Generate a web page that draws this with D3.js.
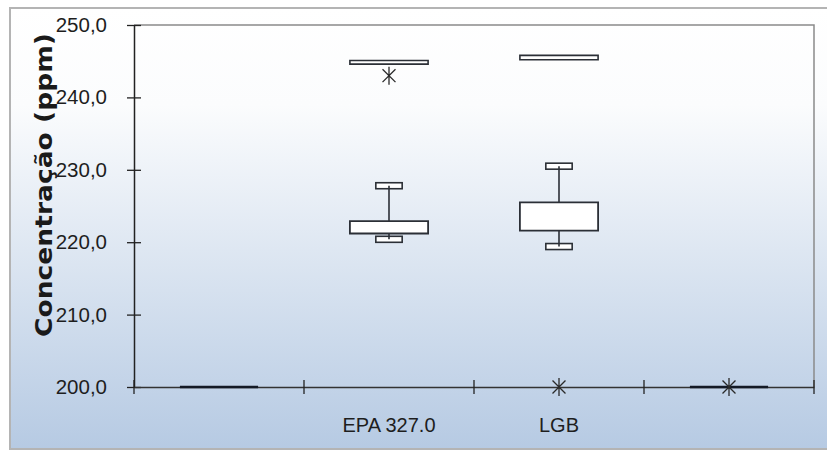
<!DOCTYPE html>
<html>
<head>
<meta charset="utf-8">
<script src="https://cdn.jsdelivr.net/npm/d3@7"></script>
<style>
  body { margin: 0; background: #fff; }
  svg { display: block; }
</style>
</head>
<body>
<svg id="vis_svg" width="827" height="452"></svg>
<script>
// box plot data
const categories = [0, 1, 2, 3];
const categoryLabels = ['', 'EPA 327.0', 'LGB', ''];
const q1 = [200.0, 221.2, 221.6, 200.0];
const q3 = [200.0, 222.9, 225.5, 200.0];
const whiskerLow = [null, 220.4, 219.4, null];
const whiskerHigh = [null, 227.8, 230.5, null];
const maxLow = [null, 244.6, 245.2, null];
const maxHigh = [null, 245.1, 245.8, null];
const outliers = [null, 243.0, 200.0, 200.0];
const yTicks = [200, 210, 220, 230, 240, 250];

const margin = { top: 25, bottom: 65, left: 134, right: 13 };
const svg = d3.select('#vis_svg');
const width = 827;
const height = 452;

// chart area background
const defs = svg.append('defs');
const grad = defs.append('linearGradient')
  .attr('id', 'bg')
  .attr('x1', 0).attr('y1', 0).attr('x2', 0).attr('y2', 1);
grad.append('stop').attr('offset', '0%').attr('stop-color', '#ffffff');
grad.append('stop').attr('offset', '22%').attr('stop-color', '#fbfcfd');
grad.append('stop').attr('offset', '100%').attr('stop-color', '#b6cae3');

svg.append('rect')
  .attr('x', 10).attr('y', 8)
  .attr('width', 830).attr('height', 441)
  .attr('fill', 'url(#bg)')
  .attr('stroke', '#b4b4b4')
  .attr('stroke-width', 2);

const xScale = d3.scaleBand()
  .domain(categories)
  .range([margin.left, width - margin.right])
  .padding(0);

const yScale = d3.scaleLinear()
  .domain([200, 250])
  .range([height - margin.bottom, margin.top]);

const bw = xScale.bandwidth();
const boxW = bw * 0.46;
const capW = bw * 0.155;
const capH = 6;
const cx = (i) => xScale(i) + bw / 2;

// plot area border (top / right)
svg.append('path')
  .attr('d', `M${margin.left},${yScale(250)}H${width - margin.right}V${yScale(200)}`)
  .attr('fill', 'none')
  .attr('stroke', '#8a8a8a')
  .attr('stroke-width', 1.5);

// y axis
const gy = svg.append('g')
  .attr('transform', `translate(${margin.left},0)`)
  .call(d3.axisLeft(yScale)
    .tickValues(yTicks)
    .tickFormat((d) => d.toFixed(1).replace('.', ','))
    .tickSize(7)
    .tickSizeOuter(0)
    .tickPadding(20));
gy.select('.domain').attr('stroke', '#222').attr('stroke-width', 1.5);
gy.selectAll('.tick line').attr('x1', 7).attr('x2', -7).attr('stroke', '#222').attr('stroke-width', 1.3);
gy.selectAll('.tick text')
  .attr('fill', '#1e1e1e')
  .style('font-family', '"Liberation Sans", Arial, sans-serif')
  .style('font-size', '20.5px');

// x axis
const gx = svg.append('g')
  .attr('transform', `translate(0,${yScale(200)})`)
  .call(d3.axisBottom(xScale)
    .tickFormat((d) => categoryLabels[d])
    .tickSize(0)
    .tickSizeOuter(0)
    .tickPadding(31));
gx.select('.domain').attr('stroke', '#333').attr('stroke-width', 1.5);
gx.selectAll('.tick text')
  .attr('fill', '#1e1e1e')
  .style('font-family', '"Liberation Sans", Arial, sans-serif')
  .style('font-size', '20px');

// category boundary ticks (crossing the axis)
const bounds = categories.map((c) => xScale(c)).concat([xScale(categories[categories.length - 1]) + bw]);
gx.selectAll('line.bound')
  .data(bounds)
  .enter()
  .append('line')
  .attr('class', 'bound')
  .attr('x1', (d) => d).attr('x2', (d) => d)
  .attr('y1', -7).attr('y2', 7)
  .attr('stroke', '#222')
  .attr('stroke-width', 1.3);

// y axis title
svg.append('text')
  .attr('transform', 'translate(52,185) rotate(-90)')
  .attr('text-anchor', 'middle')
  .attr('textLength', 304)
  .attr('lengthAdjust', 'spacingAndGlyphs')
  .style('font-family', '"DejaVu Sans", Verdana, sans-serif')
  .style('font-weight', 'bold')
  .style('font-size', '23px')
  .attr('fill', '#1a1a1a')
  .text('Concentração (ppm)');

const g = svg.append('g');
const stroke = '#2b2f36';

const rectPath = (x, y0, w, y1) => {
  const p = d3.path();
  p.rect(x, Math.min(y0, y1), w, Math.abs(y1 - y0));
  return p.toString();
};

// upper / lower caps (drawn first so whisker shows through)
const capData = [];
categories.forEach((c) => {
  if (whiskerHigh[c] != null) capData.push({ c, v: whiskerHigh[c] });
  if (whiskerLow[c] != null) capData.push({ c, v: whiskerLow[c] });
});
g.selectAll('rect.cap')
  .data(capData)
  .enter()
  .append('rect')
  .attr('class', 'cap')
  .attr('x', (d) => cx(d.c) - capW / 2)
  .attr('y', (d) => yScale(d.v) - capH / 2)
  .attr('width', capW)
  .attr('height', capH)
  .attr('fill', '#fff')
  .attr('stroke', stroke)
  .attr('stroke-width', 1.6);

// whiskers
const whiskers = [];
categories.forEach((c) => {
  if (whiskerHigh[c] != null) whiskers.push({ c, a: q3[c], b: whiskerHigh[c] });
  if (whiskerLow[c] != null) whiskers.push({ c, a: q1[c], b: whiskerLow[c] });
});
g.selectAll('line.whisker')
  .data(whiskers)
  .enter()
  .append('line')
  .attr('class', 'whisker')
  .attr('x1', (d) => cx(d.c)).attr('x2', (d) => cx(d.c))
  .attr('y1', (d) => yScale(d.a)).attr('y2', (d) => yScale(d.b))
  .attr('stroke', stroke)
  .attr('stroke-width', 1.6);

// boxes
g.selectAll('path.box')
  .data(categories)
  .enter()
  .append('path')
  .attr('class', 'box')
  .attr('d', (c) => rectPath(cx(c) - boxW / 2, yScale(q1[c]), boxW, yScale(q3[c])))
  .attr('fill', '#fff')
  .attr('stroke', (c) => (q1[c] === q3[c] ? '#141a26' : stroke))
  .attr('stroke-width', (c) => (q1[c] === q3[c] ? 2.6 : 1.8));

// thin max bars
g.selectAll('path.maxbar')
  .data(categories.filter((c) => maxLow[c] != null))
  .enter()
  .append('path')
  .attr('class', 'maxbar')
  .attr('d', (c) => rectPath(cx(c) - boxW / 2, yScale(maxLow[c]), boxW, yScale(maxHigh[c])))
  .attr('fill', '#fff')
  .attr('stroke', stroke)
  .attr('stroke-width', 1.6);

// outlier asterisks
const star = (x, y, r) => {
  const p = d3.path();
  const d = r * 0.72;
  p.moveTo(x, y - r); p.lineTo(x, y + r);
  p.moveTo(x - d, y - d); p.lineTo(x + d, y + d);
  p.moveTo(x - d, y + d); p.lineTo(x + d, y - d);
  return p.toString();
};
g.selectAll('path.outlier')
  .data(categories.filter((c) => outliers[c] != null))
  .enter()
  .append('path')
  .attr('class', 'outlier')
  .attr('d', (c) => star(cx(c), yScale(outliers[c]), 9))
  .attr('fill', 'none')
  .attr('stroke', '#2a2a2a')
  .attr('stroke-width', 1.3);
</script>
</body>
</html>
